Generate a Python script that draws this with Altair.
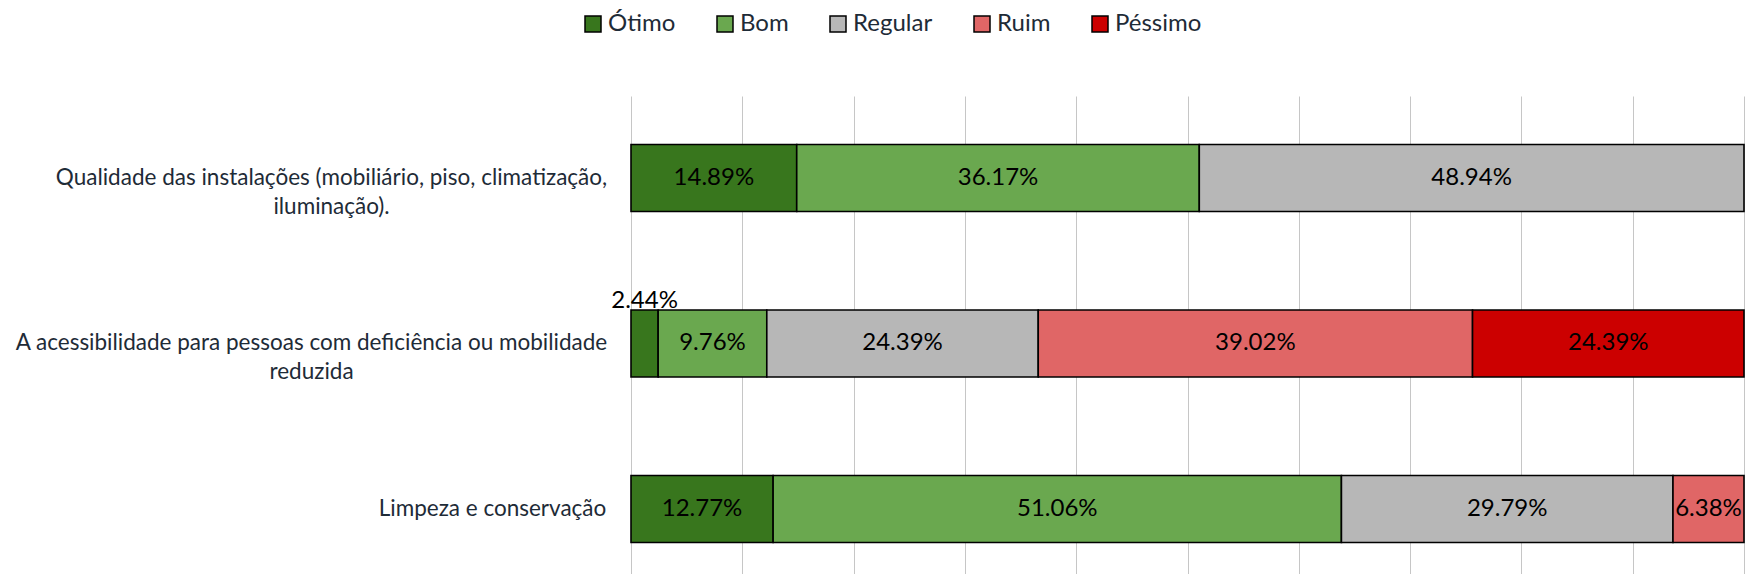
import altair as alt
import pandas as pd

FONT = "Lato"
TEXT_COLOR = "#1E2B37"

questions = [
    "Qualidade das instalações (mobiliário, piso, climatização,\niluminação).",
    "A acessibilidade para pessoas com deficiência ou mobilidade\nreduzida",
    "Limpeza e conservação",
]
ratings = ["Ótimo", "Bom", "Regular", "Ruim", "Péssimo"]
colors = ["#38761D", "#6AA84F", "#B7B7B7", "#E06666", "#CC0000"]

q1_values = [14.89, 36.17, 48.94, 0, 0]
q2_values = [2.44, 9.76, 24.39, 39.02, 24.39]
q3_values = [12.77, 51.06, 29.79, 6.38, 0]

rows = []
for q, vals in zip(questions, [q1_values, q2_values, q3_values]):
    for i, (r, v) in enumerate(zip(ratings, vals)):
        if v > 0:
            rows.append({"question": q, "rating": r, "value": v, "order": i})
df = pd.DataFrame(rows)

x_scale = alt.Scale(domain=[0, 100], nice=False, zero=True)
y_scale = alt.Scale(paddingInner=0.595, paddingOuter=0.2416, align=0.606)

y_enc = alt.Y(
    "question:N",
    sort=questions,
    scale=y_scale,
    title=None,
    axis=alt.Axis(
        labelExpr="split(datum.label, '\\n')",
        labelFont=FONT,
        labelFontSize=22.5,
        labelColor=TEXT_COLOR,
        labelLineHeight=29,
        labelAlign="center",
        labelBaseline="middle",
        labelLimit=2000,
        labelPadding={
            "condition": [
                {"test": "indexof(datum.value, 'Limpeza') >= 0", "value": 139},
                {"test": "indexof(datum.value, 'acessibilidade') >= 0", "value": 320},
            ],
            "value": 300,
        },
        ticks=False,
        tickSize=0,
        domain=False,
        grid=False,
    ),
)

x_axis = alt.Axis(
    values=list(range(0, 101, 10)),
    grid=True,
    gridColor="#C6C6C6",
    gridWidth=1,
    labels=False,
    ticks=False,
    domain=False,
    title=None,
)

bars = alt.Chart(df).mark_bar(stroke="black", strokeWidth=1.6).encode(
    x=alt.X("value:Q", stack="zero", scale=x_scale, axis=x_axis),
    y=y_enc,
    color=alt.Color(
        "rating:N",
        scale=alt.Scale(domain=ratings, range=colors),
        legend=alt.Legend(
            title=None,
            orient="none",
            legendX=-50,
            legendY=-84,
            direction="horizontal",
            symbolType="square",
            symbolSize=256,
            symbolStrokeColor="black",
            symbolStrokeWidth=1.5,
            labelFont=FONT,
            labelFontSize=24,
            labelColor=TEXT_COLOR,
            labelOffset=3,
            columnPadding=37,
        ),
    ),
    order=alt.Order("order:Q"),
)

labels_base = (
    alt.Chart(df)
    .transform_stack(stack="value", groupby=["question"], as_=["x0", "x1"], sort=[alt.SortField("order")])
    .transform_calculate(mid="(datum.x0 + datum.x1) / 2", label="format(datum.value, '.2f') + '%'")
)

inside = labels_base.transform_filter("datum.value >= 4").mark_text(
    font=FONT, fontSize=24, color="black", baseline="middle", align="center"
).encode(
    x=alt.X("mid:Q", scale=x_scale, axis=x_axis),
    y=alt.Y("question:N", sort=questions, scale=y_scale),
    text="label:N",
)

above = labels_base.transform_filter("datum.value < 4").mark_text(
    font=FONT, fontSize=24, color="black", baseline="alphabetic", align="center", dy=-35
).encode(
    x=alt.X("mid:Q", scale=x_scale, axis=x_axis),
    y=alt.Y("question:N", sort=questions, scale=y_scale),
    text="label:N",
)

chart = (
    alt.layer(bars, inside, above)
    .properties(
        width=1113,
        height=478,
        autosize=alt.AutoSizeParams(type="none"),
        padding={"left": 623, "top": 88, "right": 1, "bottom": 0},
    )
    .configure_view(stroke=None)
)

chart.save("out.html", embed_options={"renderer": "svg", "actions": False})
